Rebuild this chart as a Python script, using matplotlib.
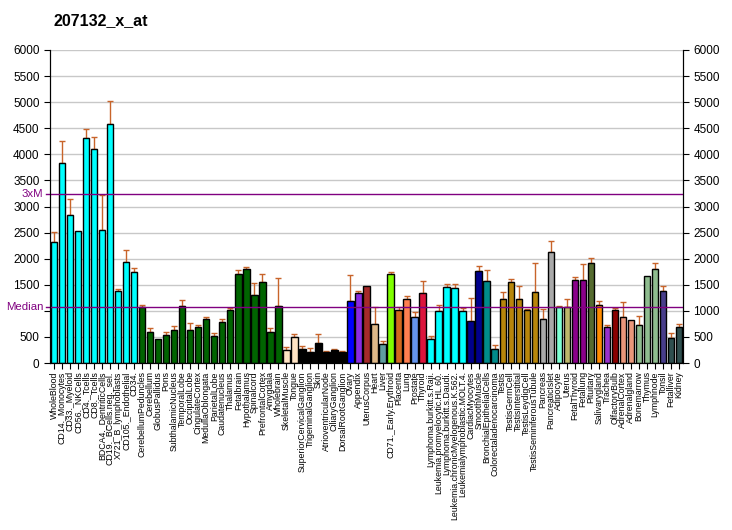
import numpy as np
import matplotlib
matplotlib.use("Agg")
import matplotlib.pyplot as plt
from matplotlib import font_manager

title = "207132_x_at"

tissues = [
    "WholeBlood", "CD14._Monocytes", "CD33._Myeloid", "CD56._NKCells", "CD4._Tcells",
    "CD8._Tcells", "BDCA4._DentriticCells", "CD19._BCells.neg._sel.", "X721_B_lymphoblasts",
    "CD105._Endothelial", "CD34.", "CerebellumPeduncles", "Cerebellum", "GlobusPallidus",
    "Pons", "SubthalamicNucleus", "TemporalLobe", "OccipitalLobe", "CingulateCortex",
    "MedullaOblongata", "ParietalLobe", "Caudatenucleus", "Thalamus", "Fetalbrain",
    "Hypothalamus", "Spinalcord", "PrefrontalCortex", "Amygdala", "Wholebrain",
    "SkeletalMuscle", "Tongue", "SuperiorCervicalGanglion", "TrigeminalGanglion", "Skin",
    "AtrioventricularNode", "CiliaryGanglion", "DorsalRootGanglion", "Ovary", "Appendix",
    "UterusCorpus", "Heart", "Liver", "CD71._Early.Erythroid", "Placenta", "Lung",
    "Prostate", "Thyroid", "Lymphoma.burkitt.s.Raji.", "Leukemia.promyelocytic.HL.60.",
    "Lymphoma.burkitt.s.Daudi.", "Leukemia.chronicMyelogenous.K.562.",
    "Leukemialymphoblastic.MOLT.4.", "CardiacMyocytes", "SmoothMuscle",
    "BronchialEpithelialCells", "Colorectaladenocarcinoma", "Testis", "TestisGermCell",
    "TestisInterstitial", "TestisLeydigCell", "TestisSeminiferousTubule", "Pancreas",
    "PancreaticIslet", "Adipocyte", "Uterus", "FetalThyroid", "Fetallung", "Pituitary",
    "Salivarygland", "Trachea", "OlfactoryBulb", "AdrenalCortex", "Adrenalgland",
    "Bonemarrow", "Thymus", "Lymphnode", "Tonsil", "Fetalliver", "Kidney",
]

values = [
    2327, 3827, 2846, 2538, 4308, 4096, 2558, 4577, 1385, 1942, 1750,
    1064, 596, 462, 538, 635, 1096, 635, 692, 846, 519, 788, 1019, 1699, 1808,
    1308, 1558, 596, 1096,
    250, 500, 276, 212, 385, 212, 256, 212,
    1192, 1346, 1481, 750, 365, 1712, 1019, 1231, 885, 1346,
    462, 1000, 1462, 1442, 1000, 808, 1769, 1577, 269,
    1231, 1558, 1231, 1019, 1365, 846, 2135, 1077, 1077, 1596, 1596, 1923,
    1115, 692, 1019, 885, 827, 731, 1673, 1808, 1385, 481, 692,
]

# upper end of the error whisker (None = no whisker drawn)
err_top = [
    2519, 4250, 3141, None, 4481, 4327, 3212, 5019, 1423, 2173, 1827,
    1115, 673, None, 596, 712, 1212, 769, 731, 885, 577, 846, 1058, 1788, 1846,
    1538, 1712, 673, 1635,
    308, 558, 327, 288, 558, 231, 276, 231,
    1692, 1385, None, 1077, 423, 1750, 1077, 1288, 981, 1577,
    519, 1115, 1519, 1519, 1058, 1250, 1865, 1788, 346,
    1365, 1615, 1481, 1038, 1923, 1038, 2346, 1096, 1231, 1654, 1904, 2019,
    1192, 731, 1058, 1173, None, 904, None, 1923, 1481, 577, 750,
]

colors = (
    ["#00FFFF"] * 11 + ["#006400"] * 18 + ["#FFE4C4"] * 2 + ["#000000"] * 6
    + ["#0000FF", "#8A2BE2", "#A52A2A", "#DEB887", "#5F9EA0", "#7FFF00",
       "#D2691E", "#FF7F50", "#6495ED", "#DC143C"]
    + ["#00FFFF"] * 5 + ["#00008B"] * 2 + ["#008B8B"] * 2 + ["#B8860B"] * 5
    + ["#A9A9A9"] * 2 + ["#7FFFD4", "#BDB76B"] + ["#8B008B"] * 2
    + ["#556B2F", "#FF8C00", "#9932CC", "#8B0000"] + ["#E9967A"] * 2
    + ["#8FBC8F"] * 3 + ["#483D8B"] + ["#2F4F4F"] * 2
)

median = 1080
ymax = 6000
yticks = list(range(0, ymax + 1, 500))

plt.rcParams['font.family'] = ['Liberation Sans', 'DejaVu Sans']

# narrow face for the tissue names if there is one
try:
    font_manager.findfont('Liberation Sans Narrow', fallback_to_default=False)
    lab_family, lab_size = 'Liberation Sans Narrow', 7.3
except ValueError:
    lab_family, lab_size = 'Liberation Sans', 6.3

fig = plt.figure(figsize=(7.32, 5.30), dpi=100)
ax = fig.add_axes([50 / 732, 167 / 530, 633 / 732, 313 / 530])

x = np.arange(len(values))
ax.set_axisbelow(True)
for g in yticks:
    ax.axhline(g, color="#C8C8C8", lw=1, zorder=0)

ax.bar(x, values, width=0.8, color=colors, edgecolor="black", linewidth=1, zorder=2)

ex = [i for i, e in enumerate(err_top) if e is not None]
ev = [values[i] for i in ex]
eu = [err_top[i] - values[i] for i in ex]
ax.errorbar(ex, ev, yerr=[np.zeros(len(ex)), eu], fmt="none", ecolor="#C8642A",
            elinewidth=1, capsize=2.5, capthick=1, zorder=1)

ax.axhline(median, color="#800080", lw=1, zorder=3)
ax.axhline(3 * median, color="#800080", lw=1, zorder=3)

ax.set_xlim(-0.5, len(values) - 0.5)
ax.set_ylim(0, ymax)
ax.set_yticks(yticks)
# the Median label sits where the left "1000" would be
ax.set_yticklabels(["" if t == 1000 else str(t) for t in yticks])
ax.tick_params(axis="y", labelsize=8.5, length=4)

ax_r = ax.twinx()
ax_r.set_ylim(0, ymax)
ax_r.set_yticks(yticks)
ax_r.tick_params(axis="y", labelsize=8.5, length=4)
ax_r.spines["top"].set_visible(False)

ax.set_xticks(x)
ax.set_xticklabels(tissues, rotation=90, fontsize=lab_size, family=lab_family)
ax.tick_params(axis="x", length=4, pad=2)

ax.spines["top"].set_visible(False)

# purple markers on the left for 3xM and Median
trans = ax.get_yaxis_transform()
for val, lab in [(3 * median, "3xM"), (median, "Median")]:
    ax.plot([-0.007, 0], [val, val], transform=trans, color="#800080", lw=1, clip_on=False)
    ax.text(-0.011, val, lab, transform=trans, color="#800080", fontsize=8.2,
            ha="right", va="center")

fig.text(53 / 732, 1 - 21 / 530, title, fontsize=11.5, fontweight="bold", va="center")

fig.savefig("out.png", dpi=100)
